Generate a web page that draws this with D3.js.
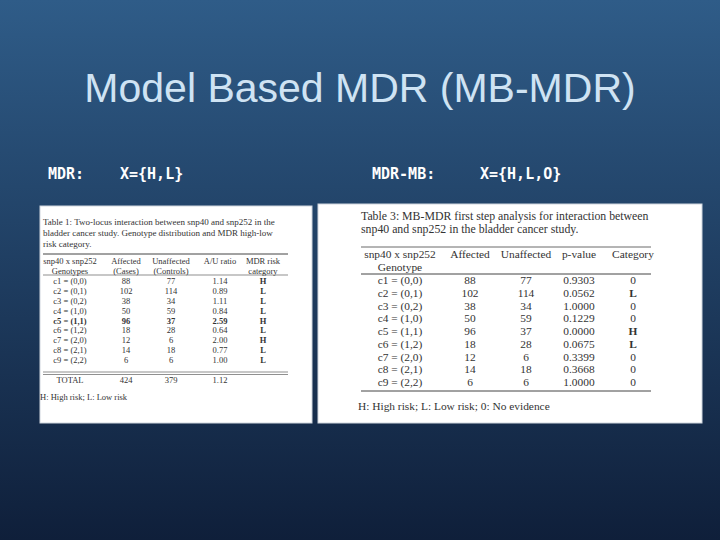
<!DOCTYPE html><html><head><meta charset="utf-8">
<script src="https://cdn.jsdelivr.net/npm/d3@7"></script>
<style>body{margin:0}svg{display:block}</style></head><body>
<script>
const genotypes=["c1 = (0,0)","c2 = (0,1)","c3 = (0,2)","c4 = (1,0)","c5 = (1,1)","c6 = (1,2)","c7 = (2,0)","c8 = (2,1)","c9 = (2,2)"];
const affected=[88,102,38,50,96,18,12,14,6];
const unaffected=[77,114,34,59,37,28,6,18,6];
const auRatio=["1.14","0.89","1.11","0.84","2.59","0.64","2.00","0.77","1.00"];
const mdrRisk=["H","L","L","L","H","L","H","L","L"];
const pValues=["0.9303","0.0562","1.0000","0.1229","0.0000","0.0675","0.3399","0.3668","1.0000"];
const mbCategory=["0","L","0","0","H","L","0","0","0"];

const W=720,H=540;
const svg=d3.select("body").append("svg").attr("width",W).attr("height",H);
const g=svg.append("defs").append("linearGradient").attr("id","bg").attr("x1",0).attr("y1",0).attr("x2",0).attr("y2",1);
g.append("stop").attr("offset","0").attr("stop-color","#2f5c88");
g.append("stop").attr("offset","1").attr("stop-color","#0f1f3a");
svg.append("rect").attr("width",W).attr("height",H).attr("fill","url(#bg)");
svg.append("text").attr("x",360).attr("y",102).attr("text-anchor","middle").attr("font-family","Liberation Sans, Arial, sans-serif").attr("font-size",41).attr("fill","#cfe3f3").text("Model Based MDR (MB-MDR)");
const lab=[["MDR:",48],["X={H,L}",120],["MDR-MB:",372],["X={H,L,O}",480]];
lab.forEach(([t,x])=>svg.append("text").attr("x",x).attr("y",179).attr("font-family","DejaVu Sans Mono, monospace").attr("font-weight","bold").attr("font-size",15).attr("fill","#ffffff").text(t));

function table(o){
  const p=svg.append("g");
  p.append("rect").attr("x",o.box[0]).attr("y",o.box[1]).attr("width",o.box[2]).attr("height",o.box[3]).attr("fill","#ffffff").attr("stroke","#cfd6de").attr("stroke-width",1);
  const T=(x,y,t,a,b)=>p.append("text").attr("x",x).attr("y",y).attr("text-anchor",a||"start").attr("font-family","Liberation Serif, DejaVu Serif, serif").attr("font-size",o.fs).attr("font-weight",b?"bold":"normal").attr("fill","#333").text(t);
  o.caption.forEach((c,i)=>T(o.x0,o.capY+i*o.capStep,c).attr("font-size",o.cfs));
  const L=(y,w)=>p.append("line").attr("x1",o.x0).attr("x2",o.x1).attr("y1",y).attr("y2",y).attr("stroke","#444").attr("stroke-width",w||0.8);
  o.rules.forEach(r=>L(r[0],r[1]));
  o.headers.forEach((h,i)=>h.forEach((t,j)=>T(o.cols[i],o.hY+j*o.hStep,t,"middle")));
  const y=d3.scalePoint().domain(d3.range(9)).range([o.rY0,o.rY1]);
  o.columns.forEach((col,i)=>col.forEach((v,r)=>T(o.cols[i],y(r)+3,v,"middle",o.bold&&(r===4&&(i<o.columns.length-1))||(i===o.columns.length-1&&/[HL]/.test(v)))));
  (o.extra||[]).forEach(e=>T(e[0],e[1],e[2],"middle"));
  T(o.x0-3,o.footY,o.foot);
}
table({box:[40,206,272,217],fs:8.5,cfs:9,x0:43,x1:288,capY:225,capStep:11,
 caption:["Table 1:  Two-locus interaction between snp40 and snp252 in the","bladder cancer study.  Genotype distribution and MDR high-low","risk category."],
 rules:[[254,1],[275,0.6],[372,0.6],[374.5,0.6]],
 cols:[70,126,171,220,263],hY:264,hStep:10,
 headers:[["snp40 x snp252","Genotypes"],["Affected","(Cases)"],["Unaffected","(Controls)"],["A/U ratio",""],["MDR risk","category"]],
 rY0:281,rY1:360,columns:[genotypes,affected,unaffected,auRatio,mdrRisk],bold:true,
 extra:[[70,383,"TOTAL"],[126,383,"424"],[171,383,"379"],[220,383,"1.12"]],
 footY:400,foot:"H: High risk;  L: Low risk"});
table({box:[318,204,384,219],fs:11.4,cfs:11.8,x0:361,x1:651,capY:220,capStep:13,
 caption:["Table 3:  MB-MDR first step analysis for interaction between","snp40 and snp252 in the bladder cancer study."],
 rules:[[247,0.8],[274,1],[391,1]],
 cols:[400,470,526,579,633],hY:258,hStep:13,
 headers:[["snp40 x snp252","Genotype"],["Affected",""],["Unaffected",""],["p-value",""],["Category",""]],
 rY0:281,rY1:383,columns:[genotypes,affected,unaffected,pValues,mbCategory],bold:false,
 footY:410,foot:"H: High risk;  L: Low risk;  0: No evidence"});
</script></body></html>
